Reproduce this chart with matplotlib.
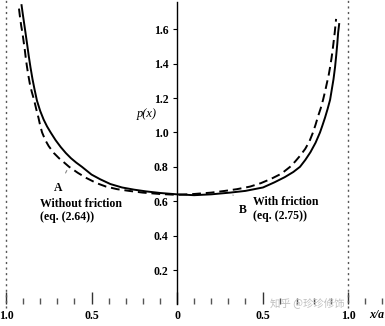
import numpy as np
import matplotlib.pyplot as plt
from matplotlib.ticker import FixedLocator, MultipleLocator

# Without friction (A), dashed curve
x_a = [-0.924, -0.918, -0.911, -0.904, -0.897, -0.89, -0.884, -0.877, -0.869, -0.86,
       -0.849, -0.836, -0.823, -0.81, -0.80, -0.789, -0.77, -0.75, -0.72, -0.69,
       -0.66, -0.631, -0.58, -0.53, -0.47, -0.415, -0.35, -0.28, -0.20, -0.10,
       0.0, 0.10, 0.20, 0.28, 0.35, 0.427, 0.49, 0.55, 0.61, 0.661,
       0.69, 0.72, 0.75, 0.775, 0.795, 0.81, 0.825, 0.84, 0.854, 0.866,
       0.877, 0.887, 0.895, 0.903, 0.91, 0.916, 0.922, 0.926, 0.93]
p_a = [1.72, 1.67, 1.62, 1.58, 1.53, 1.48, 1.43, 1.38, 1.33, 1.28,
       1.235, 1.19, 1.135, 1.085, 1.04, 1.00, 0.955, 0.92, 0.88, 0.85,
       0.825, 0.80, 0.765, 0.735, 0.705, 0.685, 0.67, 0.66, 0.65, 0.642,
       0.637, 0.642, 0.65, 0.66, 0.67, 0.685, 0.705, 0.73, 0.76, 0.80,
       0.83, 0.865, 0.905, 0.95, 1.00, 1.045, 1.095, 1.14, 1.19, 1.24,
       1.29, 1.335, 1.38, 1.43, 1.48, 1.53, 1.58, 1.62, 1.66]

# With friction (B), solid curve
x_b = [-0.909, -0.902, -0.894, -0.886, -0.876, -0.867, -0.857, -0.845, -0.833, -0.819,
       -0.80, -0.78, -0.76, -0.739, -0.71, -0.68, -0.65, -0.62, -0.59, -0.556,
       -0.50, -0.45, -0.39, -0.322, -0.25, -0.18, -0.10, 0.0, 0.10, 0.20,
       0.31, 0.40, 0.503, 0.57, 0.63, 0.68, 0.719, 0.75, 0.78, 0.81,
       0.836, 0.85, 0.865, 0.88, 0.895, 0.905, 0.915, 0.924, 0.931, 0.937,
       0.942, 0.948]
p_b = [1.74, 1.69, 1.635, 1.58, 1.51, 1.445, 1.38, 1.31, 1.25, 1.185,
       1.125, 1.075, 1.035, 1.00, 0.955, 0.915, 0.88, 0.85, 0.825, 0.80,
       0.755, 0.728, 0.70, 0.68, 0.667, 0.657, 0.648, 0.64, 0.635, 0.64,
       0.65, 0.66, 0.68, 0.71, 0.74, 0.77, 0.80, 0.84, 0.885, 0.94,
       1.00, 1.04, 1.085, 1.135, 1.19, 1.25, 1.31, 1.38, 1.45, 1.515,
       1.58, 1.63]

x_major = [-1.0, -0.5, 0.0, 0.5, 1.0]
x_labels = ["1.0", "0.5", "0", "0.5", "1.0"]
y_ticks = [0.2, 0.4, 0.6, 0.8, 1.0, 1.2, 1.4, 1.6]
y_labels = ["0.2", "0.4", "0.6", "0.8", "1.0", "1.2", "1.4", "1.6"]
edges = [-1.0, 1.0]

serif = "Liberation Serif"

fig = plt.figure(figsize=(3.85, 3.26), dpi=100)
ax = fig.add_axes([0, 0, 1, 1])
ax.set_xlim(-1.035, 1.216)
ax.set_ylim(-0.1256, 1.77)

ax.plot(x_a, p_a, color="black", lw=1.4, ls=(0, (4.5, 2.5)))
ax.plot(x_b, p_b, color="black", lw=1.4)

# dotted boundaries at x = +-a
ax.vlines(edges, -0.02, 1.77, color="#555555", lw=1.0, ls=(0, (1.5, 2.5)))

# axes
for s in ["top", "right"]:
    ax.spines[s].set_visible(False)
ax.spines["left"].set_position(("data", 0))
ax.spines["left"].set_bounds(0, 1.76)
ax.spines["left"].set_linewidth(1.0)
ax.spines["bottom"].set_position(("data", 0))
ax.spines["bottom"].set_color("none")

ax.xaxis.set_major_locator(FixedLocator(x_major))
ax.xaxis.set_minor_locator(MultipleLocator(0.1))
ax.set_xticklabels(x_labels)
ax.tick_params(axis="x", which="major", direction="in", length=9, width=1.0,
               pad=4, color="#333333")
ax.tick_params(axis="x", which="minor", direction="in", length=4, width=1.0,
               color="#555555")
ax.set_yticks(y_ticks)
ax.set_yticklabels(y_labels)
ax.tick_params(axis="y", direction="out", length=3, width=0.8, pad=3)

for lab in ax.get_xticklabels() + ax.get_yticklabels():
    lab.set_fontfamily(serif)
    lab.set_fontsize(8.5)
    lab.set_fontweight("bold")

ax.text(1.165, -0.062, "x/a", fontfamily=serif, fontsize=8.5, style="italic",
        fontweight="bold", ha="center", va="center")
ax.text(-0.18, 1.11, "p(x)", fontfamily=serif, fontsize=9, style="italic",
        ha="center", va="center")

# annotations
ax.annotate("A", xy=(-0.637, 0.793), xytext=(-0.696, 0.677), fontfamily=serif,
            fontsize=8.5, fontweight="bold", ha="center", va="center",
            arrowprops=dict(arrowstyle="-", color="#888888", lw=0.8,
                            shrinkA=5, shrinkB=2))
ax.text(-0.80, 0.584, "Without friction", fontfamily=serif, fontsize=8.5,
        fontweight="bold", ha="left", va="center")
ax.text(-0.80, 0.508, "(eq. (2.64))", fontfamily=serif, fontsize=8.5,
        fontweight="bold", ha="left", va="center")

ax.annotate("B", xy=(0.327, 0.636), xytext=(0.386, 0.55), fontfamily=serif,
            fontsize=8.5, fontweight="bold", ha="center", va="center",
            arrowprops=dict(arrowstyle="-", color="#888888", lw=0.8,
                            shrinkA=5, shrinkB=2))
ax.text(0.444, 0.595, "With friction", fontfamily=serif, fontsize=8.5,
        fontweight="bold", ha="left", va="center")
ax.text(0.444, 0.513, "(eq. (2.75))", fontfamily=serif, fontsize=8.5,
        fontweight="bold", ha="left", va="center")

fig.text(0.797, 0.068, "知乎 @珍珍修饰", fontsize=7.5, color="#c0c0c0",
         family=["Noto Sans CJK SC", "DejaVu Sans"], ha="center", va="center")

fig.savefig("out.png", dpi=100)
